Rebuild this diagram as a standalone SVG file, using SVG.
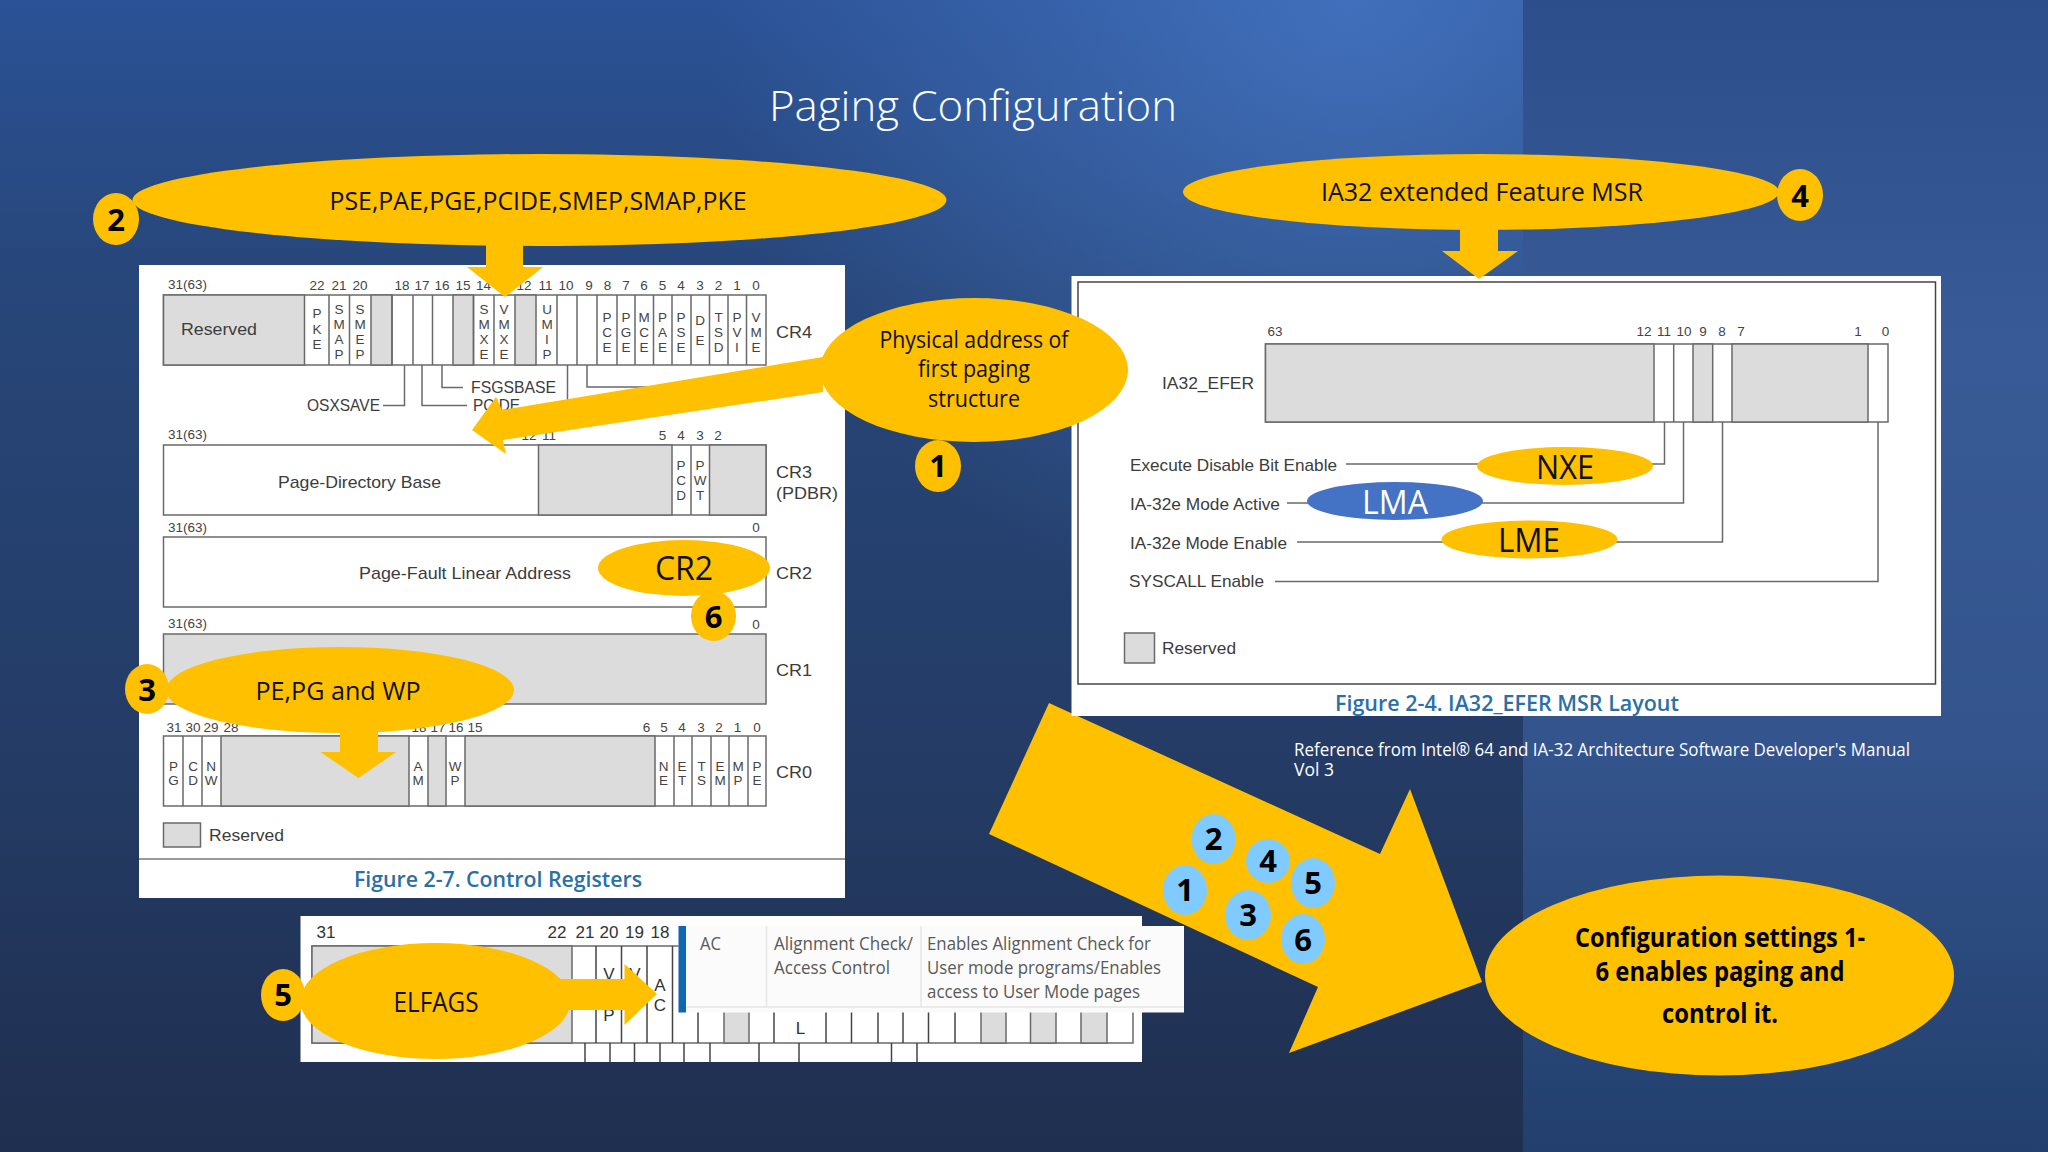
<svg xmlns="http://www.w3.org/2000/svg" width="2048" height="1152" viewBox="0 0 2048 1152">
<defs>
<linearGradient id="bgL" x1="0" y1="0" x2="0" y2="1"><stop offset="0" stop-color="#2b5296"/><stop offset=".25" stop-color="#274679"/><stop offset=".65" stop-color="#243c66"/><stop offset="1" stop-color="#1f2f4f"/></linearGradient>
<radialGradient id="glow" gradientUnits="userSpaceOnUse" cx="1350" cy="0" r="640"><stop offset="0" stop-color="#4a7ccb" stop-opacity=".7"/><stop offset="1" stop-color="#4a7ccb" stop-opacity="0"/></radialGradient>
<linearGradient id="bgR" x1="0" y1="0" x2="0" y2="1"><stop offset="0" stop-color="#2c4f8c"/><stop offset=".3" stop-color="#385a96"/><stop offset=".65" stop-color="#33548c"/><stop offset="1" stop-color="#223f6d"/></linearGradient>
</defs>
<style>
.bar{fill:#fff;stroke:#6a6a6a;stroke-width:1.5}
.g{fill:#dcdcdc;stroke:#6a6a6a;stroke-width:1.5}
.d{stroke:#6a6a6a;stroke-width:1.5;fill:none}
.t{font-family:"Liberation Sans",Arial,sans-serif;fill:#444;font-size:13.5px;text-anchor:middle}
.s{text-anchor:start}
.l{font-family:"Liberation Sans",Arial,sans-serif;fill:#3c3c3c;font-size:17px}
.cap{font-family:"Open Sans",sans-serif;font-weight:600;fill:#2a70a8;font-size:21px;text-anchor:middle}
.o{fill:#ffc000}
.e{font-family:"Open Sans",sans-serif;fill:#111;text-anchor:middle}
.n{font-family:"Open Sans",sans-serif;font-weight:700;fill:#000;font-size:31px;text-anchor:middle}
.lb{fill:#7fcbff}
.tip{font-family:"Open Sans",sans-serif;fill:#595959;font-size:18px}
</style>
<rect width="1523" height="1152" fill="url(#bgL)"/>
<rect width="1523" height="700" fill="url(#glow)"/>
<rect x="1523" width="525" height="1152" fill="url(#bgR)"/>
<text x="973" y="121" font-family="'Open Sans',sans-serif" font-weight="300" font-size="42" fill="#fff" text-anchor="middle" textLength="408" lengthAdjust="spacingAndGlyphs">Paging Configuration</text>
<text font-family="'Open Sans',sans-serif" font-size="17.5" fill="#fff"><tspan x="1294" y="756" textLength="616" lengthAdjust="spacingAndGlyphs">Reference from Intel® 64 and IA-32 Architecture Software Developer's Manual</tspan><tspan x="1294" y="776">Vol 3</tspan></text>

<g id="connectors-large"><polygon class="o" points="1049,703 989,834 1318,987 1289,1053 1482,982 1410,789 1380,854"/></g>

<g id="control-registers">
<rect x="139" y="265" width="706" height="633" fill="#fff"/>
<rect class="bar" x="163.500" y="295" width="602.500" height="70"/>
<rect class="g" x="163.500" y="295" width="141" height="70"/>
<rect class="g" x="371" y="295" width="21" height="70"/>
<rect class="g" x="453" y="295" width="20.500" height="70"/><rect class="g" x="515" y="295" width="21" height="70"/>
<path class="d" d="M329 295V365M349.500 295V365M392 295V365M413 295V365M432.500 295V365M473.500 295V365M494 295V365M557 295V365M577 295V365M597 295V365M617 295V365M635 295V365M653.500 295V365M672 295V365M691 295V365M709.500 295V365M728 295V365M746.500 295V365"/>
<path class="d" d="M404.500 365V405.500H383M422 365V405.500H467M442 365V387.500H463M567.500 365V400M587 365V387H650"/>
<text class="l" x="181" y="335" textLength="76" lengthAdjust="spacingAndGlyphs">Reserved</text>
<text class="t s" x="168" y="289">31(63)</text>
<g class="t"><text x="317" y="290">22</text><text x="339" y="290">21</text><text x="360" y="290">20</text><text x="402" y="290">18</text><text x="422" y="290">17</text><text x="442" y="290">16</text><text x="463" y="290">15</text><text x="483.500" y="290">14</text><text x="524" y="290">12</text><text x="545.500" y="290">11</text><text x="566" y="290">10</text><text x="589" y="290">9</text><text x="607.500" y="290">8</text><text x="626" y="290">7</text><text x="644" y="290">6</text><text x="662.500" y="290">5</text><text x="681" y="290">4</text><text x="700" y="290">3</text><text x="718.500" y="290">2</text><text x="737" y="290">1</text><text x="756" y="290">0</text></g>
<g class="t">
<text y="318"><tspan x="317">P</tspan><tspan x="317" dy="15.500">K</tspan><tspan x="317" dy="15.500">E</tspan></text>
<text y="314"><tspan x="339">S</tspan><tspan x="339" dy="15">M</tspan><tspan x="339" dy="15">A</tspan><tspan x="339" dy="15">P</tspan></text>
<text y="314"><tspan x="360">S</tspan><tspan x="360" dy="15">M</tspan><tspan x="360" dy="15">E</tspan><tspan x="360" dy="15">P</tspan></text>
<text y="314"><tspan x="484">S</tspan><tspan x="484" dy="15">M</tspan><tspan x="484" dy="15">X</tspan><tspan x="484" dy="15">E</tspan></text>
<text y="314"><tspan x="504">V</tspan><tspan x="504" dy="15">M</tspan><tspan x="504" dy="15">X</tspan><tspan x="504" dy="15">E</tspan></text>
<text y="314"><tspan x="547">U</tspan><tspan x="547" dy="15">M</tspan><tspan x="547" dy="15">I</tspan><tspan x="547" dy="15">P</tspan></text>
<text y="322"><tspan x="607">P</tspan><tspan x="607" dy="15">C</tspan><tspan x="607" dy="15">E</tspan></text>
<text y="322"><tspan x="626">P</tspan><tspan x="626" dy="15">G</tspan><tspan x="626" dy="15">E</tspan></text>
<text y="322"><tspan x="644">M</tspan><tspan x="644" dy="15">C</tspan><tspan x="644" dy="15">E</tspan></text>
<text y="322"><tspan x="662.500">P</tspan><tspan x="662.500" dy="15">A</tspan><tspan x="662.500" dy="15">E</tspan></text>
<text y="322"><tspan x="681">P</tspan><tspan x="681" dy="15">S</tspan><tspan x="681" dy="15">E</tspan></text>
<text y="325"><tspan x="700">D</tspan><tspan x="700" dy="20">E</tspan></text>
<text y="322"><tspan x="718.500">T</tspan><tspan x="718.500" dy="15">S</tspan><tspan x="718.500" dy="15">D</tspan></text>
<text y="322"><tspan x="737">P</tspan><tspan x="737" dy="15">V</tspan><tspan x="737" dy="15">I</tspan></text>
<text y="322"><tspan x="756">V</tspan><tspan x="756" dy="15">M</tspan><tspan x="756" dy="15">E</tspan></text>
</g>
<text class="l" x="307" y="411" textLength="73" lengthAdjust="spacingAndGlyphs">OSXSAVE</text>
<text class="l" x="471" y="393" textLength="85" lengthAdjust="spacingAndGlyphs">FSGSBASE</text>
<text class="l" x="473" y="411" textLength="47" lengthAdjust="spacingAndGlyphs">PCIDE</text>
<text class="l" x="776" y="338" textLength="36" lengthAdjust="spacingAndGlyphs">CR4</text>

<text class="t s" x="168" y="439">31(63)</text>
<g class="t"><text x="529" y="440">12</text><text x="549" y="440">11</text><text x="662.500" y="440">5</text><text x="681" y="440">4</text><text x="700" y="440">3</text><text x="718" y="440">2</text></g>
<rect class="bar" x="163.500" y="445" width="602.500" height="70"/>
<rect class="g" x="538.500" y="445" width="133.500" height="70"/><rect class="g" x="709.500" y="445" width="56.500" height="70"/>
<path class="d" d="M691 445V515"/>
<text class="t"><tspan x="681" y="470">P</tspan><tspan x="681" dy="15">C</tspan><tspan x="681" dy="15">D</tspan></text>
<text class="t"><tspan x="700" y="470">P</tspan><tspan x="700" dy="15">W</tspan><tspan x="700" dy="15">T</tspan></text>
<text class="l" x="278" y="488" textLength="163" lengthAdjust="spacingAndGlyphs">Page-Directory Base</text>
<text class="l" x="776" y="478" textLength="36" lengthAdjust="spacingAndGlyphs">CR3</text>
<text class="l" x="776" y="499" textLength="62" lengthAdjust="spacingAndGlyphs">(PDBR)</text>

<text class="t s" x="168" y="532">31(63)</text><text class="t" x="756" y="532">0</text>
<rect class="bar" x="163.500" y="537" width="602.500" height="70"/>
<text class="l" x="359" y="579" textLength="212" lengthAdjust="spacingAndGlyphs">Page-Fault Linear Address</text>
<text class="l" x="776" y="579" textLength="36" lengthAdjust="spacingAndGlyphs">CR2</text>

<text class="t s" x="168" y="628">31(63)</text><text class="t" x="756" y="629">0</text>
<rect class="g" x="163.500" y="634" width="602.500" height="70"/>
<text class="l" x="776" y="676" textLength="36" lengthAdjust="spacingAndGlyphs">CR1</text>

<g class="t"><text x="174" y="732">31</text><text x="193" y="732">30</text><text x="211" y="732">29</text><text x="231" y="732">28</text><text x="419" y="732">18</text><text x="438" y="732">17</text><text x="456" y="732">16</text><text x="475" y="732">15</text><text x="646.500" y="732">6</text><text x="664" y="732">5</text><text x="682" y="732">4</text><text x="701" y="732">3</text><text x="719" y="732">2</text><text x="737.500" y="732">1</text><text x="757" y="732">0</text></g>
<rect class="bar" x="163.500" y="736" width="602.500" height="70"/>
<rect class="g" x="221" y="736" width="188" height="70"/><rect class="g" x="428" y="736" width="18" height="70"/><rect class="g" x="465" y="736" width="190" height="70"/>
<path class="d" d="M183 736V806M202 736V806M674 736V806M692 736V806M711 736V806M729 736V806M748 736V806"/>
<g class="t">
<text><tspan x="173.500" y="771">P</tspan><tspan x="173.500" dy="14">G</tspan></text><text><tspan x="193" y="771">C</tspan><tspan x="193" dy="14">D</tspan></text><text><tspan x="211" y="771">N</tspan><tspan x="211" dy="14">W</tspan></text>
<text><tspan x="418" y="771">A</tspan><tspan x="418" dy="14">M</tspan></text><text><tspan x="455" y="771">W</tspan><tspan x="455" dy="14">P</tspan></text>
<text><tspan x="663.500" y="771">N</tspan><tspan x="663.500" dy="14">E</tspan></text><text><tspan x="682" y="771">E</tspan><tspan x="682" dy="14">T</tspan></text><text><tspan x="701.500" y="771">T</tspan><tspan x="701.500" dy="14">S</tspan></text><text><tspan x="720" y="771">E</tspan><tspan x="720" dy="14">M</tspan></text><text><tspan x="738" y="771">M</tspan><tspan x="738" dy="14">P</tspan></text><text><tspan x="757" y="771">P</tspan><tspan x="757" dy="14">E</tspan></text>
</g>
<text class="l" x="776" y="778" textLength="36" lengthAdjust="spacingAndGlyphs">CR0</text>
<rect class="g" x="163.500" y="823" width="37" height="24"/>
<text class="l" x="209" y="841" textLength="75" lengthAdjust="spacingAndGlyphs">Reserved</text>
<path d="M139 859H845" stroke="#777" stroke-width="1.500"/>
<text class="cap" x="498" y="887" textLength="288" lengthAdjust="spacingAndGlyphs">Figure 2-7.  Control Registers</text>
</g>

<g id="efer-msr">
<rect x="1071.500" y="276" width="869.500" height="440" fill="#fff"/>
<rect x="1078" y="282" width="857.500" height="402" fill="#fff" stroke="#444" stroke-width="1.500"/>
<rect class="bar" x="1265.500" y="344" width="622.500" height="78" stroke="#444"/>
<rect class="g" x="1265.500" y="344" width="388.500" height="78"/><rect class="g" x="1693" y="344" width="19.700" height="78"/><rect class="g" x="1732" y="344" width="136" height="78"/>
<path class="d" d="M1673.700 344V422"/>
<g class="t" font-size="13"><text x="1275" y="336">63</text><text x="1644" y="336">12</text><text x="1664" y="336">11</text><text x="1684" y="336">10</text><text x="1703" y="336">9</text><text x="1722" y="336">8</text><text x="1741" y="336">7</text><text x="1858" y="336">1</text><text x="1885.500" y="336">0</text></g>
<path class="d" d="M1664.500 422V464H1346M1683.500 422V503H1287M1722.500 422V542H1297M1878 422V581.500H1275"/>
<text class="l" x="1162" y="389" textLength="92" lengthAdjust="spacingAndGlyphs">IA32_EFER</text>
<text class="l" x="1130" y="471" textLength="207" lengthAdjust="spacingAndGlyphs">Execute Disable Bit Enable</text>
<text class="l" x="1130" y="510" textLength="150" lengthAdjust="spacingAndGlyphs">IA-32e Mode Active</text>
<text class="l" x="1130" y="549" textLength="157" lengthAdjust="spacingAndGlyphs">IA-32e Mode Enable</text>
<text class="l" x="1129" y="587" textLength="135" lengthAdjust="spacingAndGlyphs">SYSCALL Enable</text>
<rect class="g" x="1124.500" y="633" width="30" height="30"/>
<text class="l" x="1162" y="654" textLength="74" lengthAdjust="spacingAndGlyphs">Reserved</text>
<text class="cap" x="1507" y="711" textLength="344" lengthAdjust="spacingAndGlyphs">Figure 2-4.  IA32_EFER MSR Layout</text>
</g>

<g id="eflags-register">
<rect x="300.500" y="916" width="841.500" height="146" fill="#fff"/>
<rect class="bar" x="312" y="946" width="821" height="97" stroke="#555"/>
<rect class="g" x="312" y="946" width="260" height="97"/><rect class="g" x="724" y="946" width="25" height="97"/><rect class="g" x="981" y="946" width="25" height="97"/><rect class="g" x="1030.500" y="946" width="25.500" height="97"/><rect class="g" x="1081" y="946" width="26" height="97"/>
<path stroke="#444" stroke-width="1.500" fill="none" d="M596 946V1043M621.500 946V1043M647 946V1043M672.500 946V1043M698 946V1043M774 946V1043M826 946V1043M851.500 946V1043M878 946V1043M903 946V1043M928.500 946V1043M955 946V1043M585 1043V1062M610 1043V1062M634.500 1043V1062M660 1043V1062M684 1043V1062M710 1043V1062M759 1043V1062M799 1043V1062M891.500 1043V1062M917 1043V1062"/>
<g font-family="'Liberation Sans',sans-serif" font-size="17" fill="#333" text-anchor="middle"><text x="326" y="938">31</text><text x="557" y="938">22</text><text x="585" y="938">21</text><text x="609" y="938">20</text><text x="634.500" y="938">19</text><text x="660" y="938">18</text><text x="800.500" y="1034">L</text>
<text x="609" y="980">V</text><text x="609" y="1021">P</text><text x="635" y="980">V</text><text x="660" y="991">A</text><text x="660" y="1011">C</text></g>
</g>

<g id="tooltip-ac">
<rect x="678.500" y="926" width="505.500" height="86.500" fill="#fbfbfb"/>
<rect x="678.500" y="926" width="7.500" height="86.500" fill="#0f67b1"/>
<path d="M766.500 926V1007M921 926V1007M686 1007H1184" stroke="#e6e6e6" stroke-width="1.500"/>
<text class="tip" x="700" y="950" textLength="21" lengthAdjust="spacingAndGlyphs">AC</text>
<text class="tip" x="774" y="950" textLength="139" lengthAdjust="spacingAndGlyphs">Alignment Check/</text>
<text class="tip" x="774" y="974" textLength="116" lengthAdjust="spacingAndGlyphs">Access Control</text>
<text class="tip" x="927" y="950" textLength="224" lengthAdjust="spacingAndGlyphs">Enables Alignment Check for</text>
<text class="tip" x="927" y="974" textLength="234" lengthAdjust="spacingAndGlyphs">User mode programs/Enables</text>
<text class="tip" x="927" y="998" textLength="213" lengthAdjust="spacingAndGlyphs">access to User Mode pages</text>
</g>

<g id="connectors">
<polygon class="o" points="486,235 523,235 523,267 543,267 505,297 467,267 486,267"/>
<polygon class="o" points="823,357 823,392 503,440 506,454 472,430 496,397 502,410"/>
<polygon class="o" points="340,725 378,725 378,752 396,752 358.500,778 320.500,752 340,752"/>
<polygon class="o" points="1460,220 1498,220 1498,251 1518,251 1479,279 1442,251 1460,251"/>
<polygon class="o" points="560,979 624.500,979 624.500,964 657,994 624.500,1025 624.500,1010 560,1010"/>
</g>

<g id="node-pse"><ellipse class="o" cx="539.500" cy="200" rx="407" ry="46"/><text class="e" x="538" y="210" font-size="26" textLength="417" lengthAdjust="spacingAndGlyphs">PSE,PAE,PGE,PCIDE,SMEP,SMAP,PKE</text></g>
<g id="badge-2"><ellipse class="o" cx="116" cy="219" rx="23" ry="26"/><text class="n" x="116" y="231">2</text></g>
<g id="node-physical"><ellipse class="o" cx="974" cy="370" rx="154" ry="72"/><text class="e" font-size="23"><tspan x="974" y="348" textLength="189" lengthAdjust="spacingAndGlyphs">Physical address of</tspan><tspan x="974" y="377" textLength="112" lengthAdjust="spacingAndGlyphs">first paging</tspan><tspan x="974" y="407" textLength="92" lengthAdjust="spacingAndGlyphs">structure</tspan></text></g>
<g id="badge-1"><ellipse class="o" cx="938" cy="466" rx="23" ry="26"/><text class="n" x="938" y="477">1</text></g>
<g id="node-cr2"><ellipse class="o" cx="684" cy="568" rx="86" ry="28"/><text class="e" x="684" y="580" font-size="32">CR2</text></g>
<g id="badge-6"><ellipse class="o" cx="713.500" cy="616" rx="22.500" ry="25"/><text class="n" x="713.500" y="628">6</text></g>
<g id="node-pe"><ellipse class="o" cx="340" cy="690" rx="174" ry="43"/><text class="e" x="338" y="700" font-size="26" textLength="165" lengthAdjust="spacingAndGlyphs">PE,PG and WP</text></g>
<g id="badge-3"><ellipse class="o" cx="147" cy="689" rx="22" ry="25"/><text class="n" x="147" y="701">3</text></g>
<g id="node-eflags"><ellipse class="o" cx="435.500" cy="1001" rx="135" ry="58"/><text class="e" x="436" y="1012" font-size="27" textLength="85" lengthAdjust="spacingAndGlyphs">ELFAGS</text></g>
<g id="badge-5"><ellipse class="o" cx="283" cy="995" rx="22" ry="26"/><text class="n" x="283" y="1006">5</text></g>
<g id="node-ia32"><ellipse class="o" cx="1481" cy="192" rx="298" ry="38"/><text class="e" x="1482" y="201" font-size="26" textLength="322" lengthAdjust="spacingAndGlyphs">IA32 extended Feature MSR</text></g>
<g id="badge-4"><ellipse class="o" cx="1800" cy="195" rx="23" ry="26"/><text class="n" x="1800" y="207">4</text></g>
<g id="node-nxe"><ellipse class="o" cx="1565" cy="466" rx="88" ry="19"/><text class="e" x="1565" y="479" font-size="32" textLength="58" lengthAdjust="spacingAndGlyphs">NXE</text></g>
<g id="node-lma"><ellipse cx="1395" cy="501" rx="88" ry="19" fill="#4472c4"/><text class="e" x="1395" y="514" font-size="32" textLength="66" lengthAdjust="spacingAndGlyphs" style="fill:#fff">LMA</text></g>
<g id="node-lme"><ellipse class="o" cx="1529.500" cy="539.500" rx="88" ry="19"/><text class="e" x="1529" y="552" font-size="32" textLength="62" lengthAdjust="spacingAndGlyphs">LME</text></g>
<g id="badges-summary">
<g id="sum-2"><ellipse class="lb" cx="1213.500" cy="839" rx="22" ry="25"/><text class="n" x="1213.500" y="850">2</text></g>
<g id="sum-4"><ellipse class="lb" cx="1268" cy="861" rx="22" ry="22"/><text class="n" x="1268" y="872">4</text></g>
<g id="sum-5"><ellipse class="lb" cx="1313" cy="883" rx="22" ry="25"/><text class="n" x="1313" y="894">5</text></g>
<g id="sum-1"><ellipse class="lb" cx="1185" cy="890" rx="22" ry="25"/><text class="n" x="1185" y="901">1</text></g>
<g id="sum-3"><ellipse class="lb" cx="1248" cy="915" rx="23" ry="25"/><text class="n" x="1248" y="926">3</text></g>
<g id="sum-6"><ellipse class="lb" cx="1303" cy="939" rx="22" ry="25"/><text class="n" x="1303" y="951">6</text></g>
</g>
<g id="node-summary"><ellipse class="o" cx="1719.500" cy="975.500" rx="234.500" ry="100"/><text class="e" font-size="26" font-weight="700" style="fill:#000"><tspan x="1720" y="947" textLength="290" lengthAdjust="spacingAndGlyphs">Configuration settings 1-</tspan><tspan x="1720" y="981" textLength="249" lengthAdjust="spacingAndGlyphs">6 enables paging and</tspan><tspan x="1720" y="1023" textLength="116" lengthAdjust="spacingAndGlyphs">control it.</tspan></text></g>
</svg>
